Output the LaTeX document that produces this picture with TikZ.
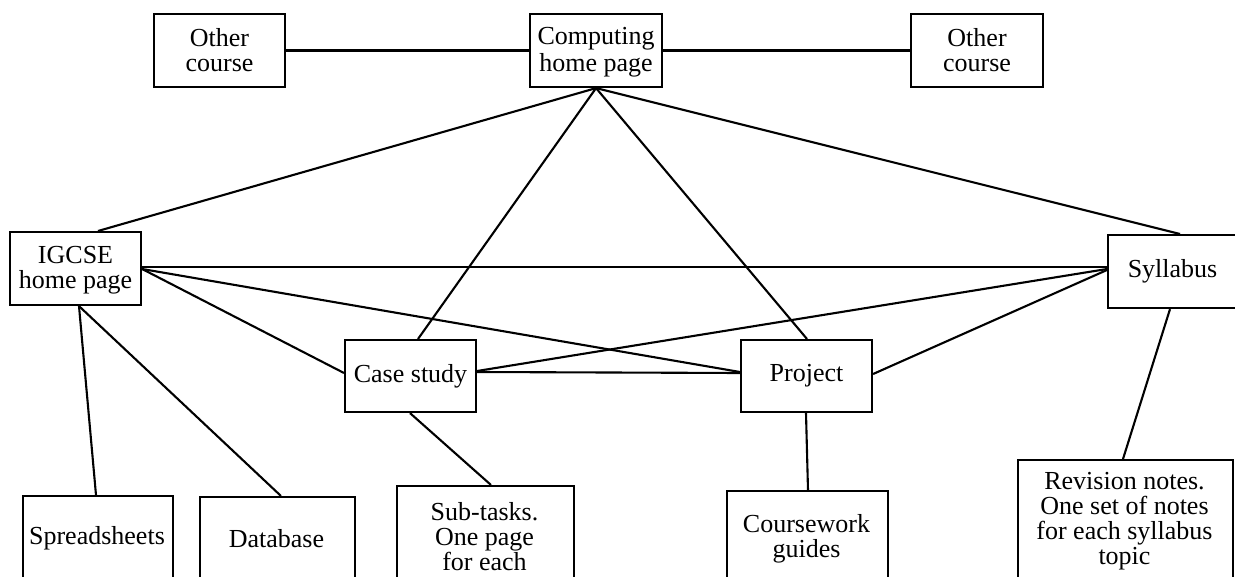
\documentclass[tikz,border=0pt]{standalone}
\usepackage{fontspec}
\setmainfont{Liberation Serif}
\usetikzlibrary{calc}
\newcommand\lowstrut{\rule[-4pt]{0pt}{24pt}}
\begin{document}
\begin{tikzpicture}[x=1pt,y=-1pt,
  box/.style={draw,line width=2.1pt,inner sep=0pt,anchor=north west,align=center,font=\fontsize{26}{25}\selectfont},
  lbl/.style={inner sep=0pt,align=center,font=\fontsize{26}{25}\selectfont},
  link/.style={line width=2.1pt}]
\useasboundingbox (0,0) rectangle (1235,577);
\clip (0,0) rectangle (1235,577);
% top row
\node[box,minimum width=131,minimum height=73] (oc1) at (153,13) {Other\lowstrut\\course\lowstrut};
\node[box,minimum width=132,minimum height=73] (comp) at (529,13) {Computing\lowstrut\\home page\lowstrut};
\node[box,minimum width=132,minimum height=73] (oc2) at (910,13) {Other\lowstrut\\course\lowstrut};
% middle
\node[box,minimum width=131,minimum height=73] (ig) at (9,231) {IGCSE\lowstrut\\home page\lowstrut};
\node[box,minimum width=133,minimum height=73] (syl) at (1107,234) {\hspace*{-2pt}Syllabus\hspace*{2pt}};
\node[box,minimum width=131,minimum height=72] (cs) at (344,339) {Case study};
\node[box,minimum width=131,minimum height=72] (pj) at (740,339) {Project};
% bottom boxes (cut by the lower edge)
\node[box,minimum width=150,minimum height=120] (ss) at (22,495) {};
\node[box,minimum width=155,minimum height=120] (db) at (199,496) {};
\node[box,minimum width=177,minimum height=130] (st) at (396,485) {};
\node[box,minimum width=161,minimum height=125] (cw) at (726,490) {};
\node[box,minimum width=215,minimum height=150] (rv) at (1017,459) {};
\node[lbl] (sst) at (97,538) {Spreadsheets};
\node[lbl] (dbt) at (276.5,539) {Database};
\node[lbl] (stt) at (484.5,537) {Sub-tasks.\\One page\\for each};
\node[lbl] (cwt) at (806.5,539) {Coursework\\guides};
\node[lbl] (rvt) at (1124.5,521) {Revision notes.\\One set of notes\\for each syllabus\\topic};
% connectors
\draw[link] (oc1.east) -- (comp.west);
\draw[link] (comp.east) -- (oc2.west);
\draw[link] (comp.south) -- ($(ig.north west)+(89,0)$);
\draw[link] (comp.south) -- ($(cs.north west)+(74,0)$);
\draw[link] (comp.south) -- ($(pj.north west)+(67,0)$);
\draw[link] (comp.south) -- ($(syl.north west)+(73,0)$);
\draw[link] ($(ig.north east)+(0,36)$) -- ($(syl.north west)+(0,33)$);
\draw[link] ($(ig.north east)+(0,38)$) -- ($(cs.north west)+(0,34)$);
\draw[link] ($(ig.north east)+(0,38)$) -- ($(pj.north west)+(0,33)$);
\draw[link] ($(cs.north east)+(0,33)$) -- ($(pj.north west)+(0,34)$);
\draw[link] ($(cs.north east)+(0,32)$) -- ($(syl.north west)+(0,35)$);
\draw[link] ($(pj.north east)+(0,35)$) -- ($(syl.north west)+(0,36)$);
\draw[link] ($(ig.south west)+(70,0)$) -- ($(ss.north west)+(74,0)$);
\draw[link] ($(ig.south west)+(70,0)$) -- ($(db.north west)+(82,0)$);
\draw[link] ($(cs.south west)+(66,0)$) -- ($(st.north west)+(95,0)$);
\draw[link] ($(pj.south west)+(66,0)$) -- ($(cw.north west)+(82,0)$);
\draw[link] ($(syl.south west)+(63,0)$) -- ($(rv.north west)+(106,0)$);
\end{tikzpicture}
\end{document}
